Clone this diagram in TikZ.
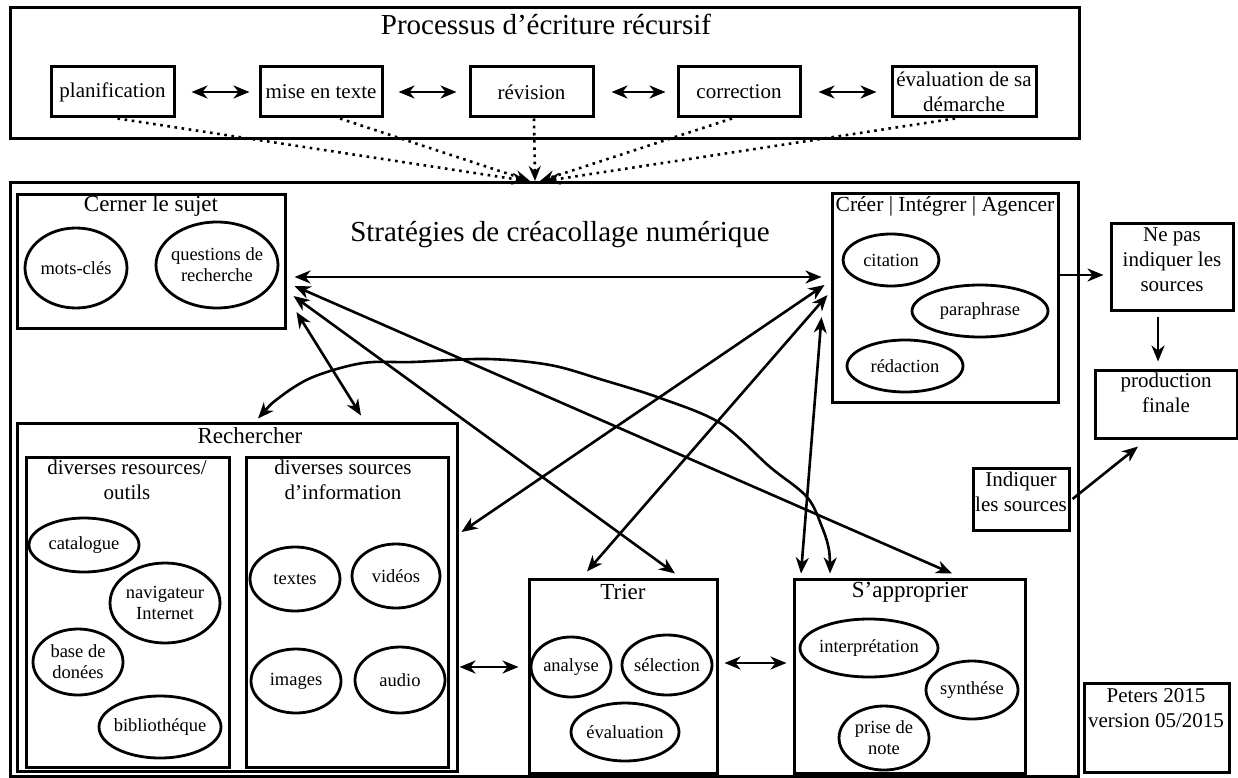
\documentclass[tikz,border=0pt]{standalone}
\usepackage{fontspec}
\setmainfont{Liberation Serif}
\usetikzlibrary{arrows.meta,fit,shapes.geometric}
\newcommand\fT{\fontsize{29}{34}\selectfont}
\newcommand\fH{\fontsize{23}{27}\selectfont}
\newcommand\fB{\fontsize{21}{25}\selectfont}
\newcommand\fE{\fontsize{18.5}{21}\selectfont}
\begin{document}
\begin{tikzpicture}[x=1pt,y=-1pt,
  box/.style={draw, line width=3pt, inner sep=0pt},
  pbox/.style={draw, line width=3pt, inner sep=0pt, font=\fB, align=center, minimum height=50pt},
  ell/.style={draw, ellipse, line width=2.8pt, inner sep=-6pt, font=\fE, align=center},
  txt/.style={font=\fB, align=center, inner sep=0pt},
  hdr/.style={font=\fH, align=center, inner sep=0pt},
  arr/.style={line width=2.6pt, -{Stealth[length=16pt,width=13pt,inset=5pt]}},
  dbl/.style={line width=2.6pt, {Stealth[length=16pt,width=13pt,inset=5pt]}-{Stealth[length=16pt,width=13pt,inset=5pt]}},
  dot/.style={line width=2.6pt, dash pattern=on 2.6pt off 4.6pt, -{Stealth[length=15pt,width=12pt,inset=5pt]}}
]
\useasboundingbox (0,0) rectangle (1238,778);

% ---------- top: writing process ----------
\node[box, fit={(10,8) (1079,139)}] (proc) {};
\node[font=\fT, inner sep=0pt] (proctitle) at (546,24) {Processus d’écriture récursif};
\node[pbox, minimum width=123pt] (plan) at (112.5,92) {planification};
\node[pbox, minimum width=122pt] (mise) at (321,92) {mise en texte};
\node[pbox, minimum width=123pt] (rev) at (531.5,92) {révision};
\node[pbox, minimum width=122pt] (corr) at (739,92) {correction};
\node[pbox, minimum width=144pt] (eval) at (964,92) {évaluation de sa\\démarche};
\draw[dbl] ([xshift=16pt]plan.east) -- ([xshift=-9pt]mise.west);
\draw[dbl] ([xshift=15pt]mise.east) -- ([xshift=-12pt]rev.west);
\draw[dbl] ([xshift=17pt]rev.east) -- ([xshift=-11pt]corr.west);
\draw[dbl] ([xshift=17pt]corr.east) -- ([xshift=-14pt]eval.west);

% ---------- main frame ----------
\node[box, fit={(10,182) (1078,776)}] (main) {};
\coordinate (conv) at (535,181);
\draw[dot] ([xshift=5pt]plan.south) -- ([xshift=-8pt]conv);
\draw[dot] ([xshift=19pt]mise.south) -- ([xshift=-5pt]conv);
\draw[dot] ([xshift=2.5pt]rev.south) -- (conv);
\draw[dot] ([xshift=-7pt]corr.south) -- ([xshift=5pt]conv);
\draw[dot] ([xshift=-9pt]eval.south) -- ([xshift=10pt]conv);
\node[font=\fT, inner sep=0pt] (strat) at (560,235) {Stratégies de créacollage numérique};

% ---------- Cerner le sujet ----------
\node[box, fit={(17,194) (285,328)}] (cerner) {};
\node[hdr] (cernerL) at (151,206) {Cerner le sujet};
\node[ell, minimum width=102pt, minimum height=80pt] (motscles) at (76,268) {mots-clés};
\node[ell, minimum width=122pt, minimum height=86pt] (quest) at (217,265) {questions de\\recherche};

% ---------- Créer ----------
\node[box, fit={(832,193) (1058,402)}] (creer) {};
\node[font=\fontsize{21.5}{25}\selectfont, inner sep=0pt] (creerL) at (945,206) {Créer | Intégrer | Agencer};
\node[ell, minimum width=96pt, minimum height=52pt] (citation) at (891,260) {citation};
\node[ell, minimum width=136pt, minimum height=52pt] (paraph) at (980,311) {paraphrase};
\node[ell, minimum width=116pt, minimum height=52pt] (redac) at (905,366) {rédaction};

% ---------- right column ----------
\node[box, fit={(1111,223) (1233,310)}] (nepas) {};
\node[txt] (nepasT) at (1172,260) {Ne pas\\indiquer les\\sources};
\node[box, fit={(1095,370) (1237,438)}] (prod) {};
\node[txt] (prodT) at (1166,393) {production\\finale};
\node[box, fit={(973,468) (1069,530)}] (indiq) {};
\node[txt] (indiqT) at (1021,492) {Indiquer\\les sources};
\node[box, fit={(1084,683) (1229,772)}] (peters) {};
\node[txt] (petersT) at (1156,708) {Peters 2015\\version 05/2015};
\draw[arr] ([yshift=22.5pt]creer.east) -- ([xshift=-6pt,yshift=-8.5pt]nepas.west);
\draw[arr] ([xshift=-14pt,yshift=-5pt]nepas.south) -- ([xshift=-8pt,yshift=7pt]prod.north);
\draw[arr] ([xshift=2pt]indiq.east) -- ([xshift=-28pt,yshift=-7pt]prod.south);

% ---------- Rechercher ----------
\node[box, fit={(17,423) (457,771)}] (rech) {};
\node[hdr] (rechL) at (250,436) {Rechercher};
\node[box, fit={(26,457) (229,767)}] (res) {};
\node[txt] (resL) at (127,480) {diverses resources/\\outils};
\node[box, fit={(246,457) (448,767)}] (src) {};
\node[txt] (srcL) at (343,480) {diverses sources\\d’information};
\node[ell, minimum width=110pt, minimum height=54pt] (catal) at (84,545) {catalogue};
\node[ell, minimum width=110pt, minimum height=80pt] (navig) at (165,603) {navigateur\\Internet};
\node[ell, minimum width=90pt, minimum height=66pt] (based) at (78,662) {base de\\donées};
\node[ell, minimum width=122pt, minimum height=62pt] (biblio) at (160,727) {bibliothéque};
\node[ell, minimum width=90pt, minimum height=64pt] (textes) at (295,579) {textes};
\node[ell, minimum width=88pt, minimum height=64pt] (videos) at (396,576) {vidéos};
\node[ell, minimum width=90pt, minimum height=64pt] (images) at (296,681) {images};
\node[ell, minimum width=90pt, minimum height=66pt] (audio) at (400,680) {audio};

% ---------- Trier ----------
\node[box, fit={(529,579) (717,773)}] (trier) {};
\node[hdr] (trierL) at (623,592) {Trier};
\node[ell, minimum width=80pt, minimum height=60pt] (analyse) at (571,667) {analyse};
\node[ell, minimum width=90pt, minimum height=60pt] (select) at (667,665) {sélection};
\node[ell, minimum width=108pt, minimum height=58pt] (evalu) at (625,732) {évaluation};

% ---------- S'approprier ----------
\node[box, fit={(794,579) (1025,773)}] (appr) {};
\node[hdr] (apprL) at (910,592) {S’approprier};
\node[ell, minimum width=138pt, minimum height=58pt] (interp) at (869,648) {interprétation};
\node[ell, minimum width=92pt, minimum height=58pt] (synth) at (972,690) {synthése};
\node[ell, minimum width=90pt, minimum height=64pt] (prise) at (884,738) {prise de\\note};

% ---------- connectors ----------
\draw[dbl] ([xshift=1pt,yshift=-70pt]rech.east) -- ([xshift=-9pt,yshift=9pt]trier.west);
\draw[dbl] ([xshift=6pt,yshift=13pt]trier.east) -- ([xshift=-6pt,yshift=13pt]appr.west);
\draw[dbl] ([xshift=8pt,yshift=-16pt]cerner.east) -- ([xshift=-9pt,yshift=20.5pt]creer.west);
\draw[dbl] ([xshift=8pt,yshift=-25pt]cerner.east) -- ([xshift=42.5pt,yshift=4pt]appr.north);
\draw[dbl] ([xshift=7pt,yshift=-35pt]cerner.east) -- ([xshift=52pt,yshift=4pt]trier.north);
\draw[dbl] ([xshift=10pt,yshift=-51pt]cerner.east) -- ([xshift=124pt,yshift=6pt]rech.north);
\draw[dbl] ([xshift=-6pt,yshift=12.5pt]creer.west) -- ([xshift=3pt,yshift=65pt]rech.east);
\draw[dbl] ([xshift=-3pt,yshift=2.5pt]creer.west) -- ([xshift=-36pt,yshift=6pt]trier.north);
\draw[dbl] ([xshift=-9pt,yshift=-19.5pt]creer.west) -- ([xshift=-108.5pt,yshift=4pt]appr.north);
\coordinate (cA) at ([xshift=21pt,yshift=3pt]rech.north);
\coordinate (cB) at ([xshift=-79.5pt,yshift=4pt]appr.north);
\draw[dbl] plot[smooth, tension=0.55] coordinates {(cA) (280,397) (313,377) (363,363) (413,362) (487,359) (550,365) (603,380) (660,398) (720,423) (770,467) (807,497) (822,527) (829,550) (cB)};
\end{tikzpicture}
\end{document}
